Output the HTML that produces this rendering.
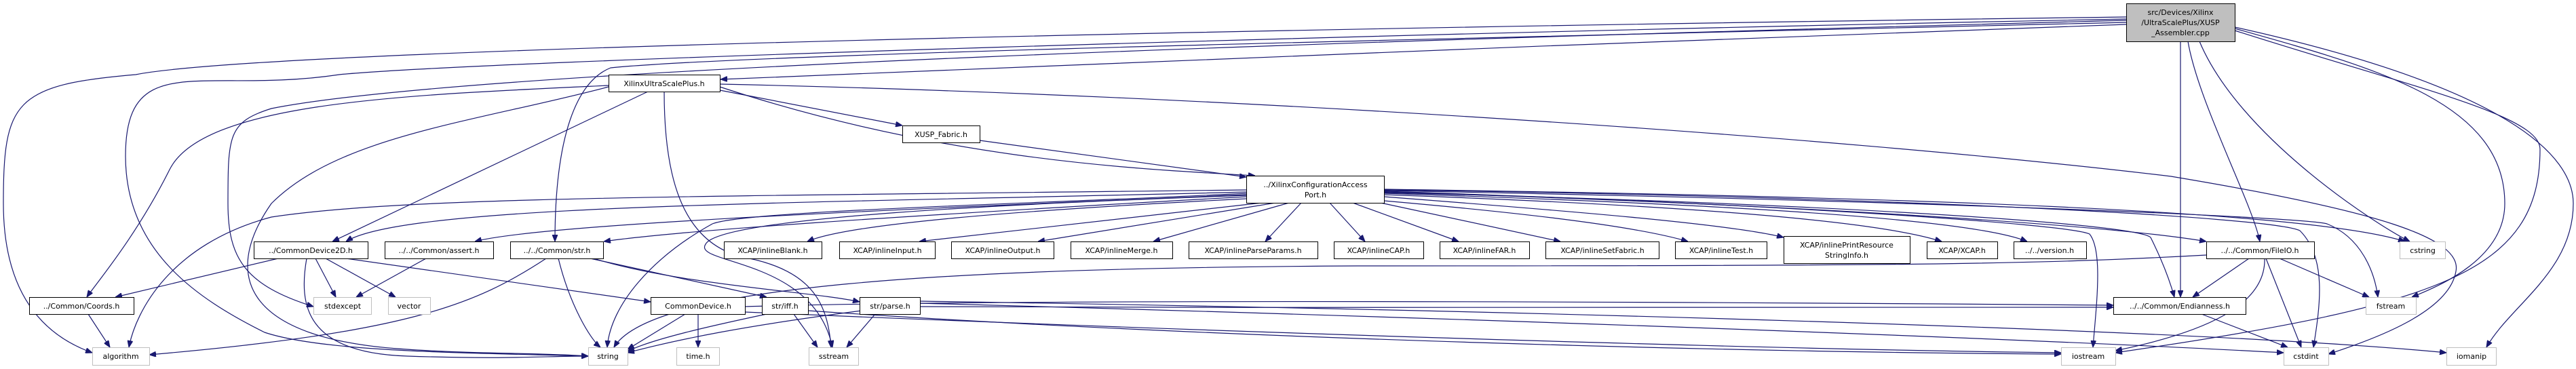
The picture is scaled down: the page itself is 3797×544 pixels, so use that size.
<!DOCTYPE html>
<html><head><meta charset="utf-8"><style>
html,body{margin:0;padding:0;background:#fff;}
svg{display:block;}
text{font-family:"DejaVu Sans","Liberation Sans",sans-serif;font-size:11px;fill:#000;}
.e{fill:none;stroke:#191970;stroke-width:1.2;}
.n{fill:#fff;stroke:#000;stroke-width:1;}
.g{fill:#fff;stroke:#bfbfbf;stroke-width:1;}
.t{fill:#bfbfbf;stroke:#000;stroke-width:1;}
</style></head><body>
<svg width="3797" height="544" viewBox="0 0 3797 544" xmlns="http://www.w3.org/2000/svg">
<defs><marker id="a" markerWidth="10" markerHeight="8" refX="10" refY="4" orient="auto" markerUnits="userSpaceOnUse"><path d="M0,0 L10,4 L0,8 z" fill="#191970" stroke="#191970"/></marker></defs>
<g class="e" marker-end="url(#a)">
<path d="M3134 36 C2500 60,1500 95,1062 117"/>
<path d="M3134 25 C2000 40,400 70,200 110 C20 125,5 150,5 300 C5 450,80 500,136 520"/>
<path d="M3134 28 C2000 50,700 90,500 110 C300 140,185 70,185 230 C185 370,290 440,390 490 C480 520,700 520,867 525"/>
<path d="M3134 30 C2000 60,700 100,400 160 C336 180,336 200,336 300 C336 380,360 420,462 452"/>
<path d="M3134 33 C2000 60,1100 80,900 100 C850 120,818 200,818 356"/>
<path d="M3214 61 L3214 438"/>
<path d="M3225 61 C3240 150,3320 300,3331 356"/>
<path d="M3242 61 C3300 200,3500 330,3552 356"/>
<path d="M3294 42 C3500 100,3692 150,3692 300 C3692 380,3600 420,3555 438"/>
<path d="M3294 45 C3560 130,3744 170,3744 220 C3744 400,3600 450,3118 520"/>
<path d="M3294 40 C3700 130,3793 230,3793 300 C3793 400,3700 450,3665 512"/>
<path d="M1061 133 L1330 185"/>
<path d="M1061 128 C1400 240,1700 250,1850 259"/>
<path d="M1061 124 C1800 140,2700 200,3200 260 C3500 310,3630 350,3620 400 C3610 460,3500 500,3432 522"/>
<path d="M955 135 L490 356"/>
<path d="M897 126 C600 140,300 150,250 250 C200 350,140 420,128 438"/>
<path d="M897 128 C700 180,500 200,400 300 C330 400,350 500,600 515 C700 522,800 520,867 525"/>
<path d="M979 135 C979 250,1000 360,1100 380 C1200 400,1220 450,1225 512"/>
<path d="M1444 207 L1837 261"/>
<path d="M1837 283 C1200 300,600 300,510 356"/>
<path d="M1837 287 C1300 310,800 330,700 356"/>
<path d="M1837 290 C1300 320,1000 340,890 356"/>
<path d="M1837 280 C1000 290,600 290,400 320 C250 360,200 460,190 512"/>
<path d="M1837 293 C1500 310,1250 330,1190 356"/>
<path d="M1860 299 L1355 356"/>
<path d="M1880 299 L1530 356"/>
<path d="M1900 299 L1700 356"/>
<path d="M1918 299 L1865 356"/>
<path d="M1960 299 L2012 356"/>
<path d="M1994 299 L2150 356"/>
<path d="M2035 299 L2300 356"/>
<path d="M2040 296 C2200 310,2400 330,2488 356"/>
<path d="M2040 290 C2300 310,2550 330,2629 350"/>
<path d="M2040 287 C2400 300,2750 320,2862 356"/>
<path d="M2040 285 C2500 300,2900 320,2988 356"/>
<path d="M2040 283 C2600 300,3100 330,3252 356"/>
<path d="M2040 279 C2800 290,3400 310,3545 356"/>
<path d="M2040 281 C2800 295,3400 320,3430 330 C3480 350,3500 400,3505 438"/>
<path d="M2040 280 C2800 290,3350 320,3390 340 C3430 380,3420 450,3410 512"/>
<path d="M2040 282 C2600 300,3050 330,3080 345 C3100 370,3090 450,3085 512"/>
<path d="M2040 284 C2700 300,3150 330,3170 350 C3190 390,3200 420,3205 438"/>
<path d="M1837 285 C1550 300,1100 310,1050 330 C960 380,900 450,895 512"/>
<path d="M1837 288 C1500 300,1060 320,1040 360 C1020 390,1200 380,1227 512"/>
<path d="M1098 452 C1500 440,2500 445,3115 450"/>
<path d="M1356 452 C2000 455,2800 452,3115 453"/>
<path d="M1098 460 C1800 490,2600 515,3038 520"/>
<path d="M1191 458 C1800 500,2600 520,3038 522"/>
<path d="M1356 447 C2200 470,3000 500,3366 520"/>
<path d="M1356 444 C2400 460,3300 490,3606 520"/>
<path d="M1270 458 C1100 480,1000 500,925 520"/>
<path d="M1290 463 L1248 512"/>
<path d="M1130 463 C1050 480,960 500,925 518"/>
<path d="M1170 463 L1205 512"/>
<path d="M1010 463 L925 515"/>
<path d="M1029 463 L1029 512"/>
<path d="M870 381 L1130 438"/>
<path d="M875 381 C1000 420,1200 430,1267 445"/>
<path d="M823 381 C840 450,870 500,885 512"/>
<path d="M805 381 C700 450,600 490,220 523"/>
<path d="M410 381 L170 438"/>
<path d="M465 381 L495 438"/>
<path d="M480 381 L583 438"/>
<path d="M510 381 L959 445"/>
<path d="M452 381 C440 450,450 520,600 525 C750 530,800 525,867 525"/>
<path d="M628 381 L525 438"/>
<path d="M130 463 L162 512"/>
<path d="M3315 381 L3232 438"/>
<path d="M3360 381 L3492 438"/>
<path d="M3340 381 L3392 512"/>
<path d="M3338 381 C3340 450,3250 490,3118 517"/>
<path d="M3252 376 C3000 390,2800 392,2000 392 C1400 395,960 420,905 512"/>
<path d="M3245 463 L3372 512"/>
</g>
<rect class="t" x="3134.5" y="5.5" width="160" height="56"/>
<text x="3214" y="22" text-anchor="middle">src/Devices/Xilinx</text>
<text x="3214" y="37" text-anchor="middle">/UltraScalePlus/XUSP</text>
<text x="3214" y="52" text-anchor="middle">_Assembler.cpp</text>
<g>
<rect class="n" x="897.5" y="110.5" width="164" height="25"/><text x="979" y="127" text-anchor="middle">XilinxUltraScalePlus.h</text>
<rect class="n" x="1330.5" y="185.5" width="114" height="25"/><text x="1387" y="202" text-anchor="middle">XUSP_Fabric.h</text>
<rect class="n" x="1837.5" y="259.5" width="203" height="40"/><text x="1939" y="276" text-anchor="middle">../XilinxConfigurationAccess</text><text x="1939" y="291" text-anchor="middle">Port.h</text>
<rect class="n" x="374.5" y="356.5" width="168" height="25"/><text x="458" y="373" text-anchor="middle">../CommonDevice2D.h</text>
<rect class="n" x="567.5" y="356.5" width="160" height="25"/><text x="647" y="373" text-anchor="middle">../../Common/assert.h</text>
<rect class="n" x="752.5" y="356.5" width="137" height="25"/><text x="821" y="373" text-anchor="middle">../../Common/str.h</text>
<rect class="n" x="1067.5" y="356.5" width="144" height="25"/><text x="1139" y="373" text-anchor="middle">XCAP/inlineBlank.h</text>
<rect class="n" x="1237.5" y="356.5" width="141" height="25"/><text x="1308" y="373" text-anchor="middle">XCAP/inlineInput.h</text>
<rect class="n" x="1402.5" y="356.5" width="151" height="25"/><text x="1478" y="373" text-anchor="middle">XCAP/inlineOutput.h</text>
<rect class="n" x="1578.5" y="356.5" width="150" height="25"/><text x="1653" y="373" text-anchor="middle">XCAP/inlineMerge.h</text>
<rect class="n" x="1752.5" y="356.5" width="190" height="25"/><text x="1847" y="373" text-anchor="middle">XCAP/inlineParseParams.h</text>
<rect class="n" x="1966.5" y="356.5" width="132" height="25"/><text x="2032" y="373" text-anchor="middle">XCAP/inlineCAP.h</text>
<rect class="n" x="2122.5" y="356.5" width="132" height="25"/><text x="2188" y="373" text-anchor="middle">XCAP/inlineFAR.h</text>
<rect class="n" x="2278.5" y="356.5" width="167" height="25"/><text x="2362" y="373" text-anchor="middle">XCAP/inlineSetFabric.h</text>
<rect class="n" x="2469.5" y="356.5" width="135" height="25"/><text x="2537" y="373" text-anchor="middle">XCAP/inlineTest.h</text>
<rect class="n" x="2629.5" y="348.5" width="186" height="40"/><text x="2722" y="365" text-anchor="middle">XCAP/inlinePrintResource</text><text x="2722" y="380" text-anchor="middle">StringInfo.h</text>
<rect class="n" x="2840.5" y="356.5" width="104" height="25"/><text x="2892" y="373" text-anchor="middle">XCAP/XCAP.h</text>
<rect class="n" x="2968.5" y="356.5" width="107" height="25"/><text x="3021" y="373" text-anchor="middle">../../version.h</text>
<rect class="n" x="3252.5" y="356.5" width="159" height="25"/><text x="3331" y="373" text-anchor="middle">../../Common/FileIO.h</text>
<rect class="g" x="3537.5" y="356.5" width="67" height="25"/><text x="3571" y="373" text-anchor="middle">cstring</text>
<rect class="n" x="43.5" y="438.5" width="154" height="25"/><text x="120" y="455" text-anchor="middle">../Common/Coords.h</text>
<rect class="g" x="462.5" y="438.5" width="85" height="25"/><text x="505" y="455" text-anchor="middle">stdexcept</text>
<rect class="g" x="572.5" y="438.5" width="62" height="25"/><text x="603" y="455" text-anchor="middle">vector</text>
<rect class="n" x="959.5" y="438.5" width="139" height="25"/><text x="1029" y="455" text-anchor="middle">CommonDevice.h</text>
<rect class="n" x="1123.5" y="438.5" width="68" height="25"/><text x="1157" y="455" text-anchor="middle">str/iff.h</text>
<rect class="n" x="1267.5" y="438.5" width="89" height="25"/><text x="1312" y="455" text-anchor="middle">str/parse.h</text>
<rect class="n" x="3115.5" y="438.5" width="195" height="25"/><text x="3213" y="455" text-anchor="middle">../../Common/Endianness.h</text>
<rect class="g" x="3487.5" y="438.5" width="74" height="25"/><text x="3524" y="455" text-anchor="middle">fstream</text>
<rect class="g" x="136.5" y="512.5" width="84" height="26"/><text x="178" y="529" text-anchor="middle">algorithm</text>
<rect class="g" x="867.5" y="512.5" width="58" height="26"/><text x="896" y="529" text-anchor="middle">string</text>
<rect class="g" x="997.5" y="512.5" width="63" height="26"/><text x="1029" y="529" text-anchor="middle">time.h</text>
<rect class="g" x="1192.5" y="512.5" width="73" height="26"/><text x="1229" y="529" text-anchor="middle">sstream</text>
<rect class="g" x="3038.5" y="512.5" width="80" height="26"/><text x="3078" y="529" text-anchor="middle">iostream</text>
<rect class="g" x="3366.5" y="512.5" width="66" height="26"/><text x="3399" y="529" text-anchor="middle">cstdint</text>
<rect class="g" x="3606.5" y="512.5" width="73" height="26"/><text x="3643" y="529" text-anchor="middle">iomanip</text>
</g>
</svg>
</body></html>
